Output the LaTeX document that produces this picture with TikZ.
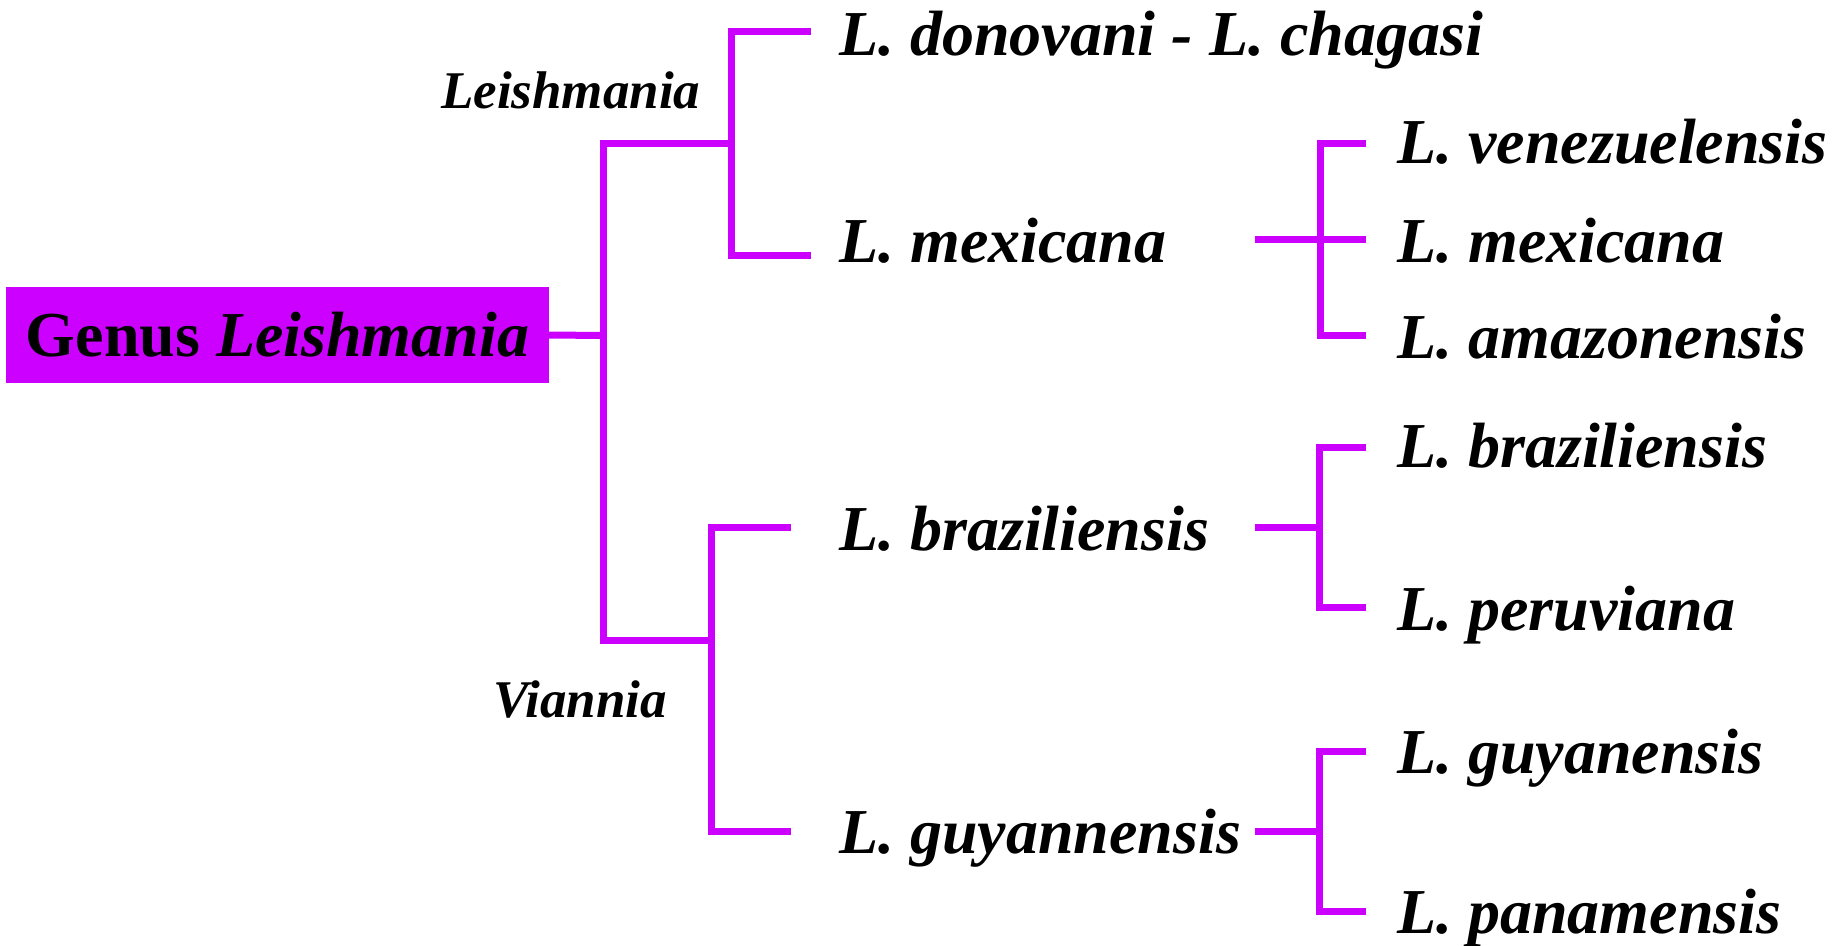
\documentclass[tikz,border=0pt]{standalone}
\usepackage{fontspec}
\setmainfont{Liberation Serif}
\usepackage{tikz}
\definecolor{leishviolet}{RGB}{204,0,255}
\tikzset{
	branch/.style={draw=leishviolet, line width=7pt},
	species/.style={anchor=base west, inner sep=0pt, font=\fontsize{64}{70}\selectfont\bfseries\itshape},
	subgenus/.style={anchor=base west, inner sep=0pt, font=\fontsize{53}{60}\selectfont\bfseries\itshape},
	genusbox/.style={fill=leishviolet, minimum width=543pt, minimum height=96pt, inner sep=0pt, font=\fontsize{64}{70}\selectfont\bfseries}
}
\begin{document}
\begin{tikzpicture}[x=1pt, y=-1pt]
		\useasboundingbox (0,0) rectangle (1841,945);

		\node[genusbox] (genus) at (277.5,335) {Genus \textit{Leishmania}};
		\node[subgenus] (leish) at (441,108) {Leishmania};
		\node[subgenus] (vian) at (493,717) {Viannia};

		\node[species] (don) at (839,55) {L. donovani - L. chagasi};
		\node[species] (mex) at (839,262) {L. mexicana};
		\node[species] (bra) at (839,550) {L. braziliensis};
		\node[species] (guy) at (839,853) {L. guyannensis};

		\node[species] (ven) at (1397,163) {L. venezuelensis};
		\node[species] (mex2) at (1397,262) {L. mexicana};
		\node[species] (ama) at (1397,358) {L. amazonensis};
		\node[species] (bra2) at (1397,467) {L. braziliensis};
		\node[species] (per) at (1397,630) {L. peruviana};
		\node[species] (guy2) at (1397,773) {L. guyanensis};
		\node[species] (pan) at (1397,933) {L. panamensis};

		\coordinate (root) at (603.5,335.5);
		\coordinate (subL) at (731,143.5);
		\coordinate (subV) at (711,640);
		\coordinate (tipDon) at (811,31.5);
		\coordinate (tipMex) at (811,255.5);
		\coordinate (tipBra) at (790.5,527);
		\coordinate (tipGuy) at (790.5,831.5);

		\coordinate (mexOut) at (1255,239);
		\coordinate (mexJ) at (1320,239);
		\coordinate (braOut) at (1255,527);
		\coordinate (braJ) at (1319,527);
		\coordinate (guyOut) at (1255,831.5);
		\coordinate (guyJ) at (1319,831.5);

		\coordinate (tipVen) at (1366,143);
		\coordinate (tipMex2) at (1366,239);
		\coordinate (tipAma) at (1366,335.5);
		\coordinate (tipBra2) at (1366,447.5);
		\coordinate (tipPer) at (1366,607);
		\coordinate (tipGuy2) at (1366,751.5);
		\coordinate (tipPan) at (1366,911.5);

		\draw[branch] (genus.east) -- (root);
		\draw[branch] (root) |- (subL);
		\draw[branch] (root) |- (subV);
		\draw[branch] (subL) |- (tipDon);
		\draw[branch] (subL) |- (tipMex);
		\draw[branch] (subV) |- (tipBra);
		\draw[branch] (subV) |- (tipGuy);

		\draw[branch] (mexOut) -- (tipMex2);
		\draw[branch] (mexJ) |- (tipVen);
		\draw[branch] (mexJ) |- (tipAma);
		\draw[branch] (braOut) -- (braJ);
		\draw[branch] (braJ) |- (tipBra2);
		\draw[branch] (braJ) |- (tipPer);
		\draw[branch] (guyOut) -- (guyJ);
		\draw[branch] (guyJ) |- (tipGuy2);
		\draw[branch] (guyJ) |- (tipPan);
	\end{tikzpicture}
\end{document}
